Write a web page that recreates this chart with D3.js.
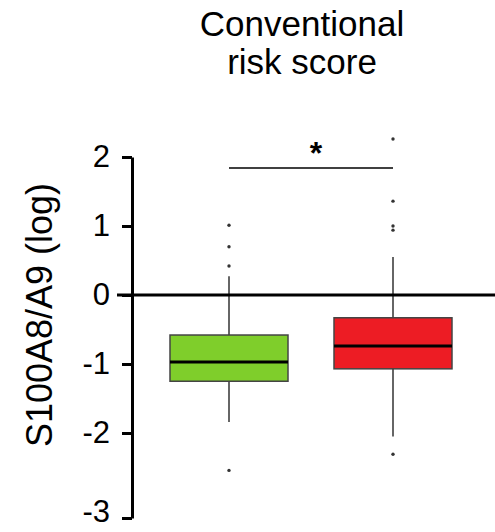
<!DOCTYPE html>
<html lang="en">
<head>
<meta charset="utf-8">
<title>Conventional risk score</title>
<script src="https://d3js.org/d3.v7.min.js"></script>
<style>
  body { margin: 0; background: #fff; }
  text { font-family: "Liberation Sans", Arial, sans-serif; }
</style>
</head>
<body>
<script>

// data (log S100A8/A9)
var groups = ["low", "high"];
var colors = ["#7fce2b", "#ed1c24"];
var q1 = [-1.25, -1.07];
var medians = [-0.97, -0.74];
var q3 = [-0.58, -0.33];
var whiskLow = [-1.84, -2.04];
var whiskHigh = [0.27, 0.55];
var outliers = [
  [1.01, 0.70, 0.42, -2.44],
  [2.26, 1.36, 1.00, 0.94, -2.25]
];
var yTicks = [2, 1, 0, -1, -2, -3];
var titleLines = ["Conventional", "risk score"];

var w = 495, h = 532;

var svg = d3.select("body").append("svg")
    .attr("width", w)
    .attr("height", h);

// the original axis is stretched below -2
var y = d3.scaleLinear()
    .domain([-3, -2, 2])
    .range([518, 433, 157]);

var x = d3.scalePoint()
    .domain(groups)
    .range([229, 393]);

var boxW = 118;

// title
svg.append("text")
    .attr("x", 302)
    .attr("y", 36)
    .attr("text-anchor", "middle")
    .style("font-size", "35px")
    .selectAll("tspan")
    .data(titleLines)
    .enter().append("tspan")
    .attr("x", 302)
    .attr("dy", function(d, i) { return i ? 38 : 0; })
    .text(function(d) { return d; });

// y axis
var yAxis = svg.append("g")
    .attr("transform", "translate(132,0)")
    .call(d3.axisLeft(y).tickValues(yTicks).tickSize(10).tickPadding(12)
      .tickSizeOuter(0).tickFormat(d3.format("d")));
yAxis.select(".domain").attr("stroke", "#000").attr("stroke-width", 3);
yAxis.selectAll(".tick line").attr("stroke", "#000").attr("stroke-width", 3);
yAxis.selectAll(".tick text")
    .attr("fill", "#000")
    .style("font-size", "31px")
    .style("font-family", "'Liberation Sans', Arial, sans-serif")
    .attr("y", function(d) { return d === -3 ? -6 : 0; })
    .text(function(d) { return d < 0 ? "-" + Math.abs(d) : d; });

// y label
svg.append("text")
    .attr("transform", "translate(52," + 315 + ") rotate(-90)")
    .attr("text-anchor", "middle")
    .style("font-size", "36px")
    .text("S100A8/A9 (log)");

// boxes
var box = svg.append("g").selectAll("g")
    .data(groups)
    .enter().append("g");

box.append("line")
    .attr("x1", function(d) { return x(d); })
    .attr("x2", function(d) { return x(d); })
    .attr("y1", function(d, i) { return y(whiskLow[i]); })
    .attr("y2", function(d, i) { return y(whiskHigh[i]); })
    .attr("stroke", "#333")
    .attr("stroke-width", 1.5);

box.append("rect")
    .attr("x", function(d) { return x(d) - boxW / 2; })
    .attr("width", boxW)
    .attr("y", function(d, i) { return y(q3[i]); })
    .attr("height", function(d, i) { return y(q1[i]) - y(q3[i]); })
    .attr("fill", function(d, i) { return colors[i]; })
    .attr("stroke", "#444")
    .attr("stroke-width", 1.5);

box.append("line")
    .attr("x1", function(d) { return x(d) - boxW / 2; })
    .attr("x2", function(d) { return x(d) + boxW / 2; })
    .attr("y1", function(d, i) { return y(medians[i]); })
    .attr("y2", function(d, i) { return y(medians[i]); })
    .attr("stroke", "#000")
    .attr("stroke-width", 3);

box.selectAll("circle")
    .data(function(d, i) { return outliers[i].map(function(v) { return {g: d, v: v}; }); })
    .enter().append("circle")
    .attr("cx", function(d) { return x(d.g); })
    .attr("cy", function(d) { return y(d.v); })
    .attr("r", 1.7)
    .attr("fill", "#333");

// zero line
svg.append("line")
    .attr("x1", 117)
    .attr("x2", w)
    .attr("y1", y(0))
    .attr("y2", y(0))
    .attr("stroke", "#000")
    .attr("stroke-width", 3);

// significance bar
svg.append("line")
    .attr("x1", x("low"))
    .attr("x2", x("high"))
    .attr("y1", 168)
    .attr("y2", 168)
    .attr("stroke", "#000")
    .attr("stroke-width", 1.5);

svg.append("text")
    .attr("x", (x("low") + x("high")) / 2 + 5)
    .attr("y", 164)
    .attr("text-anchor", "middle")
    .attr("font-weight", "bold")
    .style("font-size", "32px")
    .text("*");

</script>
</body>
</html>
